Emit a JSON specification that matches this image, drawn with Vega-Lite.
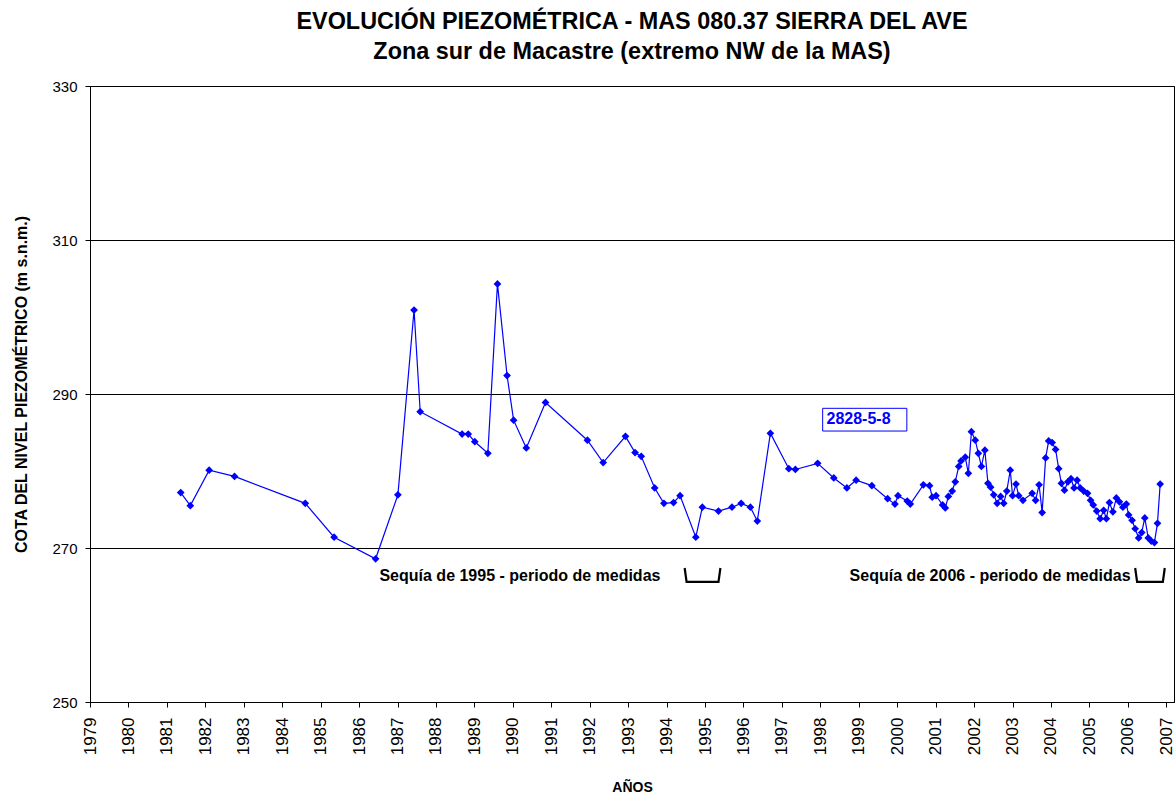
{
  "$schema": "https://vega.github.io/schema/vega-lite/v6.json",
  "width": 1084,
  "height": 616,
  "autosize": {"type": "none"},
  "padding": {"left": 90, "top": 86, "right": 2, "bottom": 92},
  "background": "white",
  "config": {
    "font": "Liberation Sans",
    "view": {"stroke": "black", "strokeWidth": 1},
    "axis": {"domainColor": "black", "tickColor": "black", "labelColor": "black", "titleColor": "black", "labelFont": "Liberation Sans", "titleFont": "Liberation Sans"},
    "axisX": {"labelOverlap": false, "labelBound": false, "labelSeparation": 0}
  },
  "title": {
    "text": ["EVOLUCIÓN PIEZOMÉTRICA - MAS 080.37 SIERRA DEL AVE", "Zona sur de Macastre (extremo NW de la MAS)"],
    "fontSize": 23.4,
    "fontWeight": "bold",
    "font": "Liberation Sans",
    "color": "black",
    "anchor": "middle",
    "frame": "group",
    "lineHeight": 30,
    "offset": 15
  },
  "datasets": {
    "serie": [
      {"t": 1981.36, "v": 277.2}, {"t": 1981.61, "v": 275.5}, {"t": 1982.10, "v": 280.1}, {"t": 1982.76, "v": 279.3},
      {"t": 1984.60, "v": 275.8}, {"t": 1985.35, "v": 271.4}, {"t": 1986.43, "v": 268.6}, {"t": 1987.01, "v": 276.9},
      {"t": 1987.43, "v": 300.9}, {"t": 1987.59, "v": 287.7}, {"t": 1988.68, "v": 284.8}, {"t": 1988.84, "v": 284.8},
      {"t": 1989.01, "v": 283.8}, {"t": 1989.35, "v": 282.3}, {"t": 1989.60, "v": 304.3}, {"t": 1989.85, "v": 292.4},
      {"t": 1990.02, "v": 286.6}, {"t": 1990.35, "v": 283.0}, {"t": 1990.85, "v": 288.9}, {"t": 1991.94, "v": 284.0},
      {"t": 1992.35, "v": 281.1}, {"t": 1992.93, "v": 284.5}, {"t": 1993.18, "v": 282.4}, {"t": 1993.34, "v": 281.9},
      {"t": 1993.69, "v": 277.8}, {"t": 1993.93, "v": 275.8}, {"t": 1994.18, "v": 275.9}, {"t": 1994.35, "v": 276.8},
      {"t": 1994.76, "v": 271.4}, {"t": 1994.93, "v": 275.3}, {"t": 1995.35, "v": 274.8}, {"t": 1995.70, "v": 275.3},
      {"t": 1995.94, "v": 275.8}, {"t": 1996.18, "v": 275.3}, {"t": 1996.36, "v": 273.5}, {"t": 1996.70, "v": 284.9},
      {"t": 1997.18, "v": 280.3}, {"t": 1997.35, "v": 280.2}, {"t": 1997.93, "v": 281.0}, {"t": 1998.35, "v": 279.1},
      {"t": 1998.69, "v": 277.8}, {"t": 1998.93, "v": 278.8}, {"t": 1999.34, "v": 278.1}, {"t": 1999.75, "v": 276.4},
      {"t": 1999.94, "v": 275.7}, {"t": 2000.02, "v": 276.8}, {"t": 2000.26, "v": 276.1}, {"t": 2000.34, "v": 275.7},
      {"t": 2000.68, "v": 278.2}, {"t": 2000.84, "v": 278.1}, {"t": 2000.91, "v": 276.6}, {"t": 2001.01, "v": 276.8},
      {"t": 2001.18, "v": 275.6}, {"t": 2001.25, "v": 275.2}, {"t": 2001.33, "v": 276.7}, {"t": 2001.43, "v": 277.4},
      {"t": 2001.51, "v": 278.6}, {"t": 2001.60, "v": 280.6}, {"t": 2001.66, "v": 281.3}, {"t": 2001.77, "v": 281.8},
      {"t": 2001.85, "v": 279.7}, {"t": 2001.93, "v": 285.1}, {"t": 2002.03, "v": 284.0}, {"t": 2002.11, "v": 282.3},
      {"t": 2002.19, "v": 280.6}, {"t": 2002.28, "v": 282.7}, {"t": 2002.36, "v": 278.4}, {"t": 2002.43, "v": 277.9},
      {"t": 2002.51, "v": 276.9}, {"t": 2002.60, "v": 275.8}, {"t": 2002.69, "v": 276.7}, {"t": 2002.77, "v": 275.8},
      {"t": 2002.85, "v": 277.4}, {"t": 2002.94, "v": 280.1}, {"t": 2003.00, "v": 276.8}, {"t": 2003.09, "v": 278.3},
      {"t": 2003.16, "v": 276.8}, {"t": 2003.27, "v": 276.2}, {"t": 2003.51, "v": 277.1}, {"t": 2003.60, "v": 276.2},
      {"t": 2003.69, "v": 278.2}, {"t": 2003.77, "v": 274.6}, {"t": 2003.86, "v": 281.7}, {"t": 2003.94, "v": 283.9},
      {"t": 2004.03, "v": 283.7}, {"t": 2004.12, "v": 282.8}, {"t": 2004.20, "v": 280.3}, {"t": 2004.27, "v": 278.4},
      {"t": 2004.35, "v": 277.5}, {"t": 2004.44, "v": 278.6}, {"t": 2004.52, "v": 279.0}, {"t": 2004.60, "v": 277.8},
      {"t": 2004.68, "v": 278.8}, {"t": 2004.76, "v": 277.8}, {"t": 2004.85, "v": 277.4}, {"t": 2004.95, "v": 277.1},
      {"t": 2005.03, "v": 276.2}, {"t": 2005.10, "v": 275.6}, {"t": 2005.19, "v": 274.8}, {"t": 2005.28, "v": 273.8},
      {"t": 2005.37, "v": 274.9}, {"t": 2005.44, "v": 273.8}, {"t": 2005.52, "v": 275.9}, {"t": 2005.61, "v": 274.7},
      {"t": 2005.70, "v": 276.5}, {"t": 2005.78, "v": 276.0}, {"t": 2005.87, "v": 275.3}, {"t": 2005.96, "v": 275.7},
      {"t": 2006.02, "v": 274.3}, {"t": 2006.11, "v": 273.6}, {"t": 2006.19, "v": 272.5}, {"t": 2006.28, "v": 271.3},
      {"t": 2006.36, "v": 272.0}, {"t": 2006.44, "v": 273.9}, {"t": 2006.53, "v": 271.3}, {"t": 2006.61, "v": 270.9},
      {"t": 2006.69, "v": 270.7}, {"t": 2006.77, "v": 273.2}, {"t": 2006.84, "v": 278.3}
    ],
    "notas": [
      {"t": 1986.53, "v": 266.4, "label": "Sequía de 1995 - periodo de medidas"},
      {"t": 1998.76, "v": 266.4, "label": "Sequía de 2006 - periodo de medidas"}
    ],
    "corchetes": [
      {"g": "a", "o": 1, "t": 1994.47, "v": 267.4},
      {"g": "a", "o": 2, "t": 1994.52, "v": 265.6},
      {"g": "a", "o": 3, "t": 1995.35, "v": 265.6},
      {"g": "a", "o": 4, "t": 1995.40, "v": 267.4},
      {"g": "b", "o": 1, "t": 2006.19, "v": 267.4},
      {"g": "b", "o": 2, "t": 2006.24, "v": 265.6},
      {"g": "b", "o": 3, "t": 2006.91, "v": 265.6},
      {"g": "b", "o": 4, "t": 2006.96, "v": 267.4}
    ],
    "caja": [
      {"t": 1998.06, "t2": 2000.25, "v": 288.14, "v2": 285.19}
    ],
    "rotulo": [
      {"t": 1998.16, "v": 286.75, "label": "2828-5-8"}
    ]
  },
  "layer": [
    {
      "data": {"name": "serie"},
      "mark": {"type": "line", "color": "#0000FF", "strokeWidth": 1.2},
      "encoding": {
        "x": {
          "field": "t", "type": "quantitative",
          "scale": {"domain": [1979, 2007.2], "nice": false, "zero": false},
          "axis": {
            "values": [1979, 1980, 1981, 1982, 1983, 1984, 1985, 1986, 1987, 1988, 1989, 1990, 1991, 1992, 1993, 1994, 1995, 1996, 1997, 1998, 1999, 2000, 2001, 2002, 2003, 2004, 2005, 2006, 2007],
            "tickCount": 60,
            "format": "d",
            "labelAngle": -90,
            "labelAlign": "right",
            "labelBaseline": "middle",
            "labelFontSize": 17,
            "labelPadding": 10,
            "tickSize": 5,
            "grid": false,
            "title": "AÑOS",
            "titleFontSize": 14,
            "titleFontWeight": "bold",
            "titlePadding": 26,
            "labelFlush": false,
            "labelOverlap": false
          }
        },
        "y": {
          "field": "v", "type": "quantitative",
          "scale": {"domain": [250, 330], "nice": false, "zero": false},
          "axis": {
            "values": [250, 270, 290, 310, 330],
            "labelFontSize": 15,
            "labelPadding": 8,
            "tickSize": 5,
            "grid": true,
            "gridColor": "black",
            "gridOpacity": 1,
            "gridWidth": 1,
            "title": "COTA DEL NIVEL PIEZOMÉTRICO (m s.n.m.)",
            "titleFontSize": 16,
            "titleFontWeight": "bold",
            "titlePadding": 22,
            "titleY": 298
          }
        }
      }
    },
    {
      "data": {"name": "serie"},
      "mark": {"type": "point", "shape": "diamond", "filled": true, "color": "#0000FF", "opacity": 1, "size": 60},
      "encoding": {
        "x": {"field": "t", "type": "quantitative"},
        "y": {"field": "v", "type": "quantitative"}
      }
    },
    {
      "data": {"name": "caja"},
      "mark": {"type": "rect", "fill": "white", "stroke": "#0000FF", "strokeWidth": 1},
      "encoding": {
        "x": {"field": "t", "type": "quantitative"},
        "x2": {"field": "t2"},
        "y": {"field": "v", "type": "quantitative"},
        "y2": {"field": "v2"}
      }
    },
    {
      "data": {"name": "rotulo"},
      "mark": {"type": "text", "align": "left", "baseline": "middle", "fontSize": 16, "fontWeight": "bold", "color": "#0000FF", "font": "Liberation Sans"},
      "encoding": {
        "x": {"field": "t", "type": "quantitative"},
        "y": {"field": "v", "type": "quantitative"},
        "text": {"field": "label"}
      }
    },
    {
      "data": {"name": "notas"},
      "mark": {"type": "text", "align": "left", "baseline": "middle", "fontSize": 16, "fontWeight": "bold", "color": "black", "font": "Liberation Sans"},
      "encoding": {
        "x": {"field": "t", "type": "quantitative"},
        "y": {"field": "v", "type": "quantitative"},
        "text": {"field": "label"}
      }
    },
    {
      "data": {"name": "corchetes"},
      "mark": {"type": "line", "color": "black", "strokeWidth": 2.2},
      "encoding": {
        "x": {"field": "t", "type": "quantitative"},
        "y": {"field": "v", "type": "quantitative"},
        "detail": {"field": "g"},
        "order": {"field": "o"}
      }
    }
  ]
}
